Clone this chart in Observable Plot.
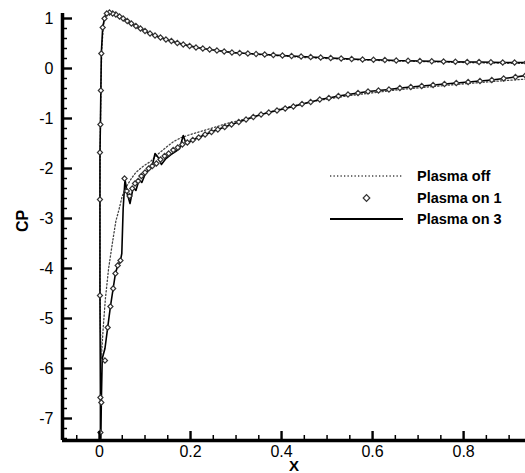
<!DOCTYPE html>
<html><head><meta charset="utf-8">
<script src="https://cdn.jsdelivr.net/npm/d3@7"></script>
<script src="https://cdn.jsdelivr.net/npm/@observablehq/plot@0.6"></script>
<style>body{margin:0;background:#fff;}</style>
</head><body><div id="chart"></div>
<script>
// ---- series labels ----
const seriesNames = ["Plasma off", "Plasma on 1", "Plasma on 3"];

// ---- axis ticks ----
const xMajor = [0, 0.2, 0.4, 0.6, 0.8];
const xMinor = [-0.05, 0.05, 0.1, 0.15, 0.25, 0.3, 0.35, 0.45, 0.5, 0.55, 0.65, 0.7, 0.75, 0.85, 0.9];
const yMajor = [-7, -6, -5, -4, -3, -2, -1, 0, 1];
const xDomain = [-0.0813, 0.936];
const yDomain = [-7.44, 1.1];

// ---- pressure side (trailing edge -> stagnation), shared by Plasma on 1 / on 3 ----
const psX = [0.938,0.912,0.886,0.86,0.834,0.808,0.782,0.756,0.73,0.704,0.678,0.652,0.627,0.602,0.578,0.554,0.531,0.508,0.486,0.464,0.443,0.422,0.402,0.382,0.363,0.344,0.326,0.308,0.291,0.274,0.258,0.242,0.227,0.212,0.198,0.184,0.171,0.158,0.146,0.134,0.122,0.111,0.1,0.09,0.08,0.07,0.061,0.052,0.044,0.036,0.029,0.022,0.016,0.011,0.007,0.004];
const psY = [0.12,0.12,0.12,0.125,0.13,0.13,0.135,0.14,0.145,0.15,0.155,0.16,0.17,0.175,0.18,0.19,0.2,0.21,0.22,0.23,0.24,0.25,0.26,0.27,0.28,0.29,0.3,0.31,0.32,0.34,0.36,0.38,0.4,0.42,0.45,0.48,0.51,0.55,0.58,0.62,0.66,0.7,0.75,0.8,0.85,0.9,0.95,1.0,1.04,1.08,1.1,1.12,1.1,1.0,0.82,0.3];

// ---- leading edge (down to suction peak) ----
const leX = [0.003,0.002,0.001,0.001,0.001,0.002,0.002];
const leY = [-0.44,-1.12,-1.68,-2.62,-4.54,-6.58,-7.28];

// ---- suction side near the actuator: Plasma on 1 ----
const head1X = [0.004,0.012,0.018,0.024,0.03,0.035,0.04,0.046,0.055,0.06,0.066,0.072,0.078,0.085,0.092,0.1,0.108,0.116,0.125,0.134,0.143,0.152,0.162,0.172,0.182,0.193];
const head1Y = [-6.68,-5.84,-5.18,-4.76,-4.4,-4.1,-3.94,-3.84,-2.2,-2.45,-2.55,-2.4,-2.3,-2.25,-2.15,-2.08,-2.0,-1.95,-1.9,-1.82,-1.75,-1.7,-1.63,-1.58,-1.52,-1.48];

// ---- suction side near the actuator: Plasma on 3 ----
const head3X = [0.003,0.004,0.006,0.012,0.018,0.024,0.03,0.035,0.04,0.046,0.049,0.052,0.056,0.061,0.067,0.074,0.08,0.087,0.093,0.1,0.108,0.115,0.122,0.129,0.136,0.146,0.157,0.167,0.176,0.184,0.19,0.198];
const head3Y = [-7.4,-6.68,-5.8,-5.6,-5.18,-4.76,-4.4,-4.1,-3.94,-3.84,-3.7,-2.8,-2.22,-2.5,-2.7,-2.38,-2.44,-2.22,-2.28,-2.12,-2.02,-1.98,-1.7,-1.78,-1.92,-1.8,-1.72,-1.66,-1.6,-1.34,-1.5,-1.46];

// ---- suction side downstream, shared by Plasma on 1 / on 3 ----
const tailX = [0.205,0.218,0.232,0.246,0.26,0.275,0.29,0.306,0.322,0.338,0.355,0.372,0.39,0.408,0.426,0.445,0.464,0.484,0.504,0.525,0.546,0.568,0.59,0.613,0.636,0.66,0.684,0.708,0.733,0.758,0.784,0.81,0.836,0.862,0.888,0.914,0.936];
const tailY = [-1.43,-1.38,-1.32,-1.27,-1.22,-1.17,-1.12,-1.07,-1.02,-0.97,-0.92,-0.88,-0.84,-0.8,-0.76,-0.71,-0.67,-0.62,-0.59,-0.55,-0.52,-0.49,-0.46,-0.44,-0.42,-0.39,-0.37,-0.35,-0.33,-0.31,-0.29,-0.27,-0.25,-0.23,-0.2,-0.17,-0.14];

// ---- Plasma off (whole contour) ----
const offX = [0.938,0.85,0.75,0.65,0.55,0.45,0.35,0.3,0.25,0.2,0.16,0.12,0.09,0.06,0.04,0.025,0.015,0.009,0.005,0.003,0.002,0.001,0.001,0.002,0.004,0.008,0.013,0.02,0.029,0.036,0.042,0.05,0.06,0.07,0.08,0.09,0.1,0.112,0.13,0.15,0.163,0.18,0.2,0.237,0.28,0.33,0.4,0.48,0.55,0.66,0.77,0.85,0.938];
const offY = [0.1,0.11,0.13,0.15,0.18,0.22,0.28,0.31,0.37,0.45,0.54,0.66,0.78,0.93,1.04,1.1,1.1,0.9,0.4,-0.4,-1.2,-2.4,-4.0,-5.2,-5.8,-5.2,-4.6,-4.0,-3.45,-3.05,-2.85,-2.55,-2.35,-2.2,-2.08,-2.0,-1.93,-1.86,-1.7,-1.55,-1.46,-1.38,-1.32,-1.22,-1.1,-0.99,-0.8,-0.64,-0.54,-0.42,-0.33,-0.27,-0.21];

function rows(xs, ys) { return xs.map((x, i) => ({x, y: ys[i]})); }
const off = rows(offX, offY);
const on1 = rows([...psX, ...leX, ...head1X, ...tailX], [...psY, ...leY, ...head1Y, ...tailY]);
const on3 = rows([...psX, ...leX, ...head3X, ...tailX], [...psY, ...leY, ...head3Y, ...tailY]);

const W = 525, H = 473, mL = 62, mR = 0, mT = 13, mB = 33;
const innerW = W - mL - mR, innerH = H - mT - mB;
const yMinor = d3.range(-7.4, 1.01, 0.2).map(v => Math.round(v * 10) / 10).filter(v => !yMajor.includes(v));
const FONT = "'Liberation Sans', Arial, Helvetica, sans-serif";

function legendMark() {
  const g = d3.create("svg:g").attr("font-family", FONT).attr("text-anchor", "start");
  const x0 = 330, x1 = 403, tx = 417, rowsY = [176, 198, 219];
  g.append("line").attr("x1", x0).attr("x2", x1).attr("y1", rowsY[0]).attr("y2", rowsY[0])
    .attr("stroke", "#444").attr("stroke-width", 1.3).attr("stroke-dasharray", "1.3,2.2");
  g.append("path").attr("d", d3.symbol(d3.symbolSquare, 22)())
    .attr("transform", `translate(${(x0 + x1) / 2},${rowsY[1]}) rotate(45)`)
    .attr("fill", "white").attr("stroke", "#333").attr("stroke-width", 1.2);
  g.append("line").attr("x1", x0).attr("x2", x1).attr("y1", rowsY[2]).attr("y2", rowsY[2])
    .attr("stroke", "#000").attr("stroke-width", 1.8);
  seriesNames.forEach((s, i) => {
    g.append("text").attr("x", tx).attr("y", rowsY[i]).attr("dy", "0.36em")
      .attr("text-anchor", "start")
      .attr("font-size", 14.5).attr("font-weight", "bold").attr("fill", "#000").text(s);
  });
  return g.node();
}

const chart = Plot.plot({
  width: W, height: H,
  marginLeft: mL, marginRight: mR, marginTop: mT, marginBottom: mB,
  x: {domain: xDomain},
  y: {domain: yDomain},
  style: {fontFamily: FONT, fontSize: "16px", color: "#000", background: "#fff"},
  marks: [
    Plot.line(off, {x: "x", y: "y", stroke: "#444", strokeWidth: 1.3, strokeDasharray: "1.3,2.2"}),
    Plot.line(on3, {x: "x", y: "y", stroke: "#000", strokeWidth: 1.6}),
    Plot.dot(on1, {x: "x", y: "y", symbol: "diamond2", r: 2.3, stroke: "#333", fill: "white", strokeWidth: 1.2}),
    Plot.ruleX([xDomain[0]], {stroke: "#000", strokeWidth: 3.5}),
    Plot.ruleY([yDomain[0]], {stroke: "#000", strokeWidth: 3.5}),
    Plot.tickY(yMajor, {y: d => d, insetRight: innerW - 10, stroke: "#000", strokeWidth: 2.4}),
    Plot.tickY(yMinor, {y: d => d, insetRight: innerW - 5, stroke: "#000", strokeWidth: 1.5}),
    Plot.tickX(xMajor, {x: d => d, insetTop: innerH - 9, stroke: "#000", strokeWidth: 2.4}),
    Plot.tickX(xMinor, {x: d => d, insetTop: innerH - 5, stroke: "#000", strokeWidth: 1.5}),
    Plot.axisY({ticks: yMajor, tickSize: 0, tickPadding: 9, label: null, tickFormat: d => String(d), fontSize: 16}),
    Plot.axisX({ticks: xMajor, tickSize: 0, tickPadding: 5, label: null, tickFormat: d => String(d), fontSize: 16}),
    Plot.text(["CP"], {frameAnchor: "left", dx: -40, dy: 5, rotate: -90, fontWeight: "bold", fontSize: 16, text: d => d}),
    Plot.text(["X"], {frameAnchor: "bottom", dy: 30, fontWeight: "bold", fontSize: 15, text: d => d}),
    legendMark
  ]
});
document.getElementById("chart").appendChild(chart);
</script>
</body></html>
